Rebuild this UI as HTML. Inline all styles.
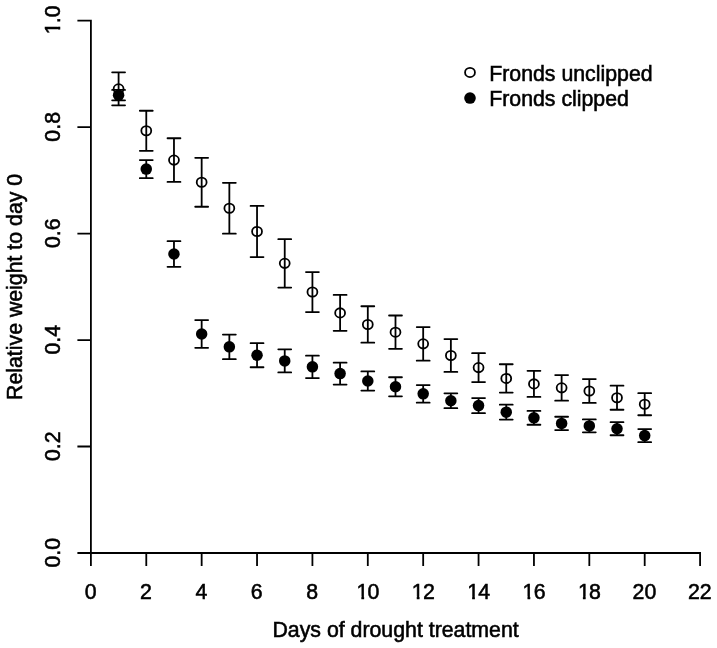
<!DOCTYPE html>
<html lang="en"><head><meta charset="utf-8"><title>Relative weight during drought treatment</title>
<style>html,body{margin:0;padding:0;background:#fff}svg{display:block}text{font-family:"Liberation Sans",Arial,Helvetica,sans-serif;font-size:21.3px;fill:#000;stroke:#000;stroke-width:0.55px}.l{stroke:#000;stroke-width:1.80;fill:none}.o{stroke:#000;stroke-width:1.80;fill:none}.f{fill:#000;stroke:none}</style></head><body>
<svg width="717" height="648" viewBox="0 0 717 648">
<rect width="717" height="648" fill="#fff"/>
<path class="l" stroke-linecap="square" d="M90.90 553.00H700.08M90.90 553.00V565.20M146.28 553.00V565.20M201.66 553.00V565.20M257.04 553.00V565.20M312.42 553.00V565.20M367.80 553.00V565.20M423.18 553.00V565.20M478.56 553.00V565.20M533.94 553.00V565.20M589.32 553.00V565.20M644.70 553.00V565.20M700.08 553.00V565.20M90.90 553.00V20.60M90.90 553.00H78.30M90.90 446.52H78.30M90.90 340.04H78.30M90.90 233.56H78.30M90.90 127.08H78.30M90.90 20.60H78.30"/>
<defs><clipPath id="c2"><rect x="-40" y="-24" width="80" height="21.6"/><rect x="-6.11" y="-2.6" width="2.72" height="3.6"/><rect x="1.00" y="-3" width="40" height="8"/></clipPath><clipPath id="c3"><rect x="-40" y="-24" width="80" height="21.6"/><rect x="-9.07" y="-2.6" width="2.72" height="3.6"/><rect x="-1.46" y="-3" width="40" height="8"/></clipPath></defs>
<g text-anchor="middle">
<text x="90.60" y="598.95">0</text>
<text x="145.98" y="598.95">2</text>
<text x="201.36" y="598.95">4</text>
<text x="256.74" y="598.95">6</text>
<text x="312.12" y="598.95">8</text>
<g transform="translate(367.50 598.95)"><text clip-path="url(#c2)" text-anchor="start" x="-11.85"><tspan dx="0.80">1</tspan><tspan dx="-0.80">0</tspan></text></g>
<g transform="translate(422.88 598.95)"><text clip-path="url(#c2)" text-anchor="start" x="-11.85"><tspan dx="0.80">1</tspan><tspan dx="-0.80">2</tspan></text></g>
<g transform="translate(478.26 598.95)"><text clip-path="url(#c2)" text-anchor="start" x="-11.85"><tspan dx="0.80">1</tspan><tspan dx="-0.80">4</tspan></text></g>
<g transform="translate(533.64 598.95)"><text clip-path="url(#c2)" text-anchor="start" x="-11.85"><tspan dx="0.80">1</tspan><tspan dx="-0.80">6</tspan></text></g>
<g transform="translate(589.02 598.95)"><text clip-path="url(#c2)" text-anchor="start" x="-11.85"><tspan dx="0.80">1</tspan><tspan dx="-0.80">8</tspan></text></g>
<text x="644.40" y="598.95">20</text>
<text x="699.78" y="598.95">22</text>
<text x="395.6" y="637.4">Days of drought treatment</text>
<text transform="translate(60.1 552.75) rotate(-90)">0.0</text>
<text transform="translate(60.1 446.27) rotate(-90)">0.2</text>
<text transform="translate(60.1 339.79) rotate(-90)">0.4</text>
<text transform="translate(60.1 233.31) rotate(-90)">0.6</text>
<text transform="translate(60.1 126.83) rotate(-90)">0.8</text>
<g transform="translate(60.1 20.35) rotate(-90)"><text clip-path="url(#c3)" text-anchor="start" x="-14.80"><tspan dx="0.80">1</tspan><tspan dx="-0.80">.0</tspan></text></g>
<text transform="translate(22.05 286.9) rotate(-90)">Relative weight to day 0</text>
</g>
<path class="l" stroke-linecap="round" d="M118.59 72.35V105.35M112.14 72.35H125.04M112.14 105.35H125.04M146.28 110.75V150.85M139.83 110.75H152.73M139.83 150.85H152.73M173.97 138.25V181.95M167.52 138.25H180.42M167.52 181.95H180.42M201.66 157.85V206.75M195.21 157.85H208.11M195.21 206.75H208.11M229.35 182.85V233.65M222.90 182.85H235.80M222.90 233.65H235.80M257.04 205.95V257.05M250.59 205.95H263.49M250.59 257.05H263.49M284.73 239.15V287.55M278.28 239.15H291.18M278.28 287.55H291.18M312.42 272.05V312.05M305.97 272.05H318.87M305.97 312.05H318.87M340.11 294.95V330.85M333.66 294.95H346.56M333.66 330.85H346.56M367.80 306.25V342.65M361.35 306.25H374.25M361.35 342.65H374.25M395.49 315.50V348.85M389.04 315.50H401.94M389.04 348.85H401.94M423.18 327.05V360.65M416.73 327.05H429.63M416.73 360.65H429.63M450.87 339.10V371.95M444.42 339.10H457.32M444.42 371.95H457.32M478.56 353.15V382.05M472.11 353.15H485.01M472.11 382.05H485.01M506.25 364.25V392.60M499.80 364.25H512.70M499.80 392.60H512.70M533.94 370.85V396.95M527.49 370.85H540.39M527.49 396.95H540.39M561.63 375.05V400.65M555.18 375.05H568.08M555.18 400.65H568.08M589.32 379.10V402.95M582.87 379.10H595.77M582.87 402.95H595.77M617.01 385.65V409.75M610.56 385.65H623.46M610.56 409.75H623.46M644.70 393.15V415.25M638.25 393.15H651.15M638.25 415.25H651.15"/>
<ellipse class="o" cx="118.59" cy="88.85" rx="4.95" ry="4.65"/>
<ellipse class="o" cx="146.28" cy="130.80" rx="4.95" ry="4.65"/>
<ellipse class="o" cx="173.97" cy="160.10" rx="4.95" ry="4.65"/>
<ellipse class="o" cx="201.66" cy="182.30" rx="4.95" ry="4.65"/>
<ellipse class="o" cx="229.35" cy="208.25" rx="4.95" ry="4.65"/>
<ellipse class="o" cx="257.04" cy="231.50" rx="4.95" ry="4.65"/>
<ellipse class="o" cx="284.73" cy="263.35" rx="4.95" ry="4.65"/>
<ellipse class="o" cx="312.42" cy="292.05" rx="4.95" ry="4.65"/>
<ellipse class="o" cx="340.11" cy="312.90" rx="4.95" ry="4.65"/>
<ellipse class="o" cx="367.80" cy="324.45" rx="4.95" ry="4.65"/>
<ellipse class="o" cx="395.49" cy="332.18" rx="4.95" ry="4.65"/>
<ellipse class="o" cx="423.18" cy="343.85" rx="4.95" ry="4.65"/>
<ellipse class="o" cx="450.87" cy="355.53" rx="4.95" ry="4.65"/>
<ellipse class="o" cx="478.56" cy="367.60" rx="4.95" ry="4.65"/>
<ellipse class="o" cx="506.25" cy="378.43" rx="4.95" ry="4.65"/>
<ellipse class="o" cx="533.94" cy="383.90" rx="4.95" ry="4.65"/>
<ellipse class="o" cx="561.63" cy="387.85" rx="4.95" ry="4.65"/>
<ellipse class="o" cx="589.32" cy="391.03" rx="4.95" ry="4.65"/>
<ellipse class="o" cx="617.01" cy="397.70" rx="4.95" ry="4.65"/>
<ellipse class="o" cx="644.70" cy="404.20" rx="4.95" ry="4.65"/>
<path class="l" stroke-linecap="round" d="M118.59 89.95V100.35M112.14 89.95H125.04M112.14 100.35H125.04M146.28 160.05V178.15M139.83 160.05H152.73M139.83 178.15H152.73M173.97 241.20V266.85M167.52 241.20H180.42M167.52 266.85H180.42M201.66 320.05V347.85M195.21 320.05H208.11M195.21 347.85H208.11M229.35 334.55V359.15M222.90 334.55H235.80M222.90 359.15H235.80M257.04 343.15V367.25M250.59 343.15H263.49M250.59 367.25H263.49M284.73 349.35V372.45M278.28 349.35H291.18M278.28 372.45H291.18M312.42 355.65V378.05M305.97 355.65H318.87M305.97 378.05H318.87M340.11 362.70V384.55M333.66 362.70H346.56M333.66 384.55H346.56M367.80 371.45V390.55M361.35 371.45H374.25M361.35 390.55H374.25M395.49 377.25V396.35M389.04 377.25H401.94M389.04 396.35H401.94M423.18 385.05V402.65M416.73 385.05H429.63M416.73 402.65H429.63M450.87 393.35V408.15M444.42 393.35H457.32M444.42 408.15H457.32M478.56 398.10V413.15M472.11 398.10H485.01M472.11 413.15H485.01M506.25 404.70V419.60M499.80 404.70H512.70M499.80 419.60H512.70M533.94 410.95V424.75M527.49 410.95H540.39M527.49 424.75H540.39M561.63 416.75V430.05M555.18 416.75H568.08M555.18 430.05H568.08M589.32 419.45V432.35M582.87 419.45H595.77M582.87 432.35H595.77M617.01 422.15V435.25M610.56 422.15H623.46M610.56 435.25H623.46M644.70 429.05V442.15M638.25 429.05H651.15M638.25 442.15H651.15"/>
<circle class="f" cx="118.59" cy="95.15" r="5.75"/>
<circle class="f" cx="146.28" cy="169.10" r="5.75"/>
<circle class="f" cx="173.97" cy="254.03" r="5.75"/>
<circle class="f" cx="201.66" cy="333.95" r="5.75"/>
<circle class="f" cx="229.35" cy="346.85" r="5.75"/>
<circle class="f" cx="257.04" cy="355.20" r="5.75"/>
<circle class="f" cx="284.73" cy="360.90" r="5.75"/>
<circle class="f" cx="312.42" cy="366.85" r="5.75"/>
<circle class="f" cx="340.11" cy="373.62" r="5.75"/>
<circle class="f" cx="367.80" cy="381.00" r="5.75"/>
<circle class="f" cx="395.49" cy="386.80" r="5.75"/>
<circle class="f" cx="423.18" cy="393.85" r="5.75"/>
<circle class="f" cx="450.87" cy="400.75" r="5.75"/>
<circle class="f" cx="478.56" cy="405.62" r="5.75"/>
<circle class="f" cx="506.25" cy="412.15" r="5.75"/>
<circle class="f" cx="533.94" cy="417.85" r="5.75"/>
<circle class="f" cx="561.63" cy="423.40" r="5.75"/>
<circle class="f" cx="589.32" cy="425.90" r="5.75"/>
<circle class="f" cx="617.01" cy="428.70" r="5.75"/>
<circle class="f" cx="644.70" cy="435.60" r="5.75"/>
<ellipse class="o" cx="470" cy="72.45" rx="4.95" ry="4.6"/>
<circle class="f" cx="470" cy="98.05" r="5.8"/>
<text x="489.2" y="80.6">Fronds unclipped</text>
<text x="489.2" y="105.85">Fronds clipped</text>
</svg></body></html>
